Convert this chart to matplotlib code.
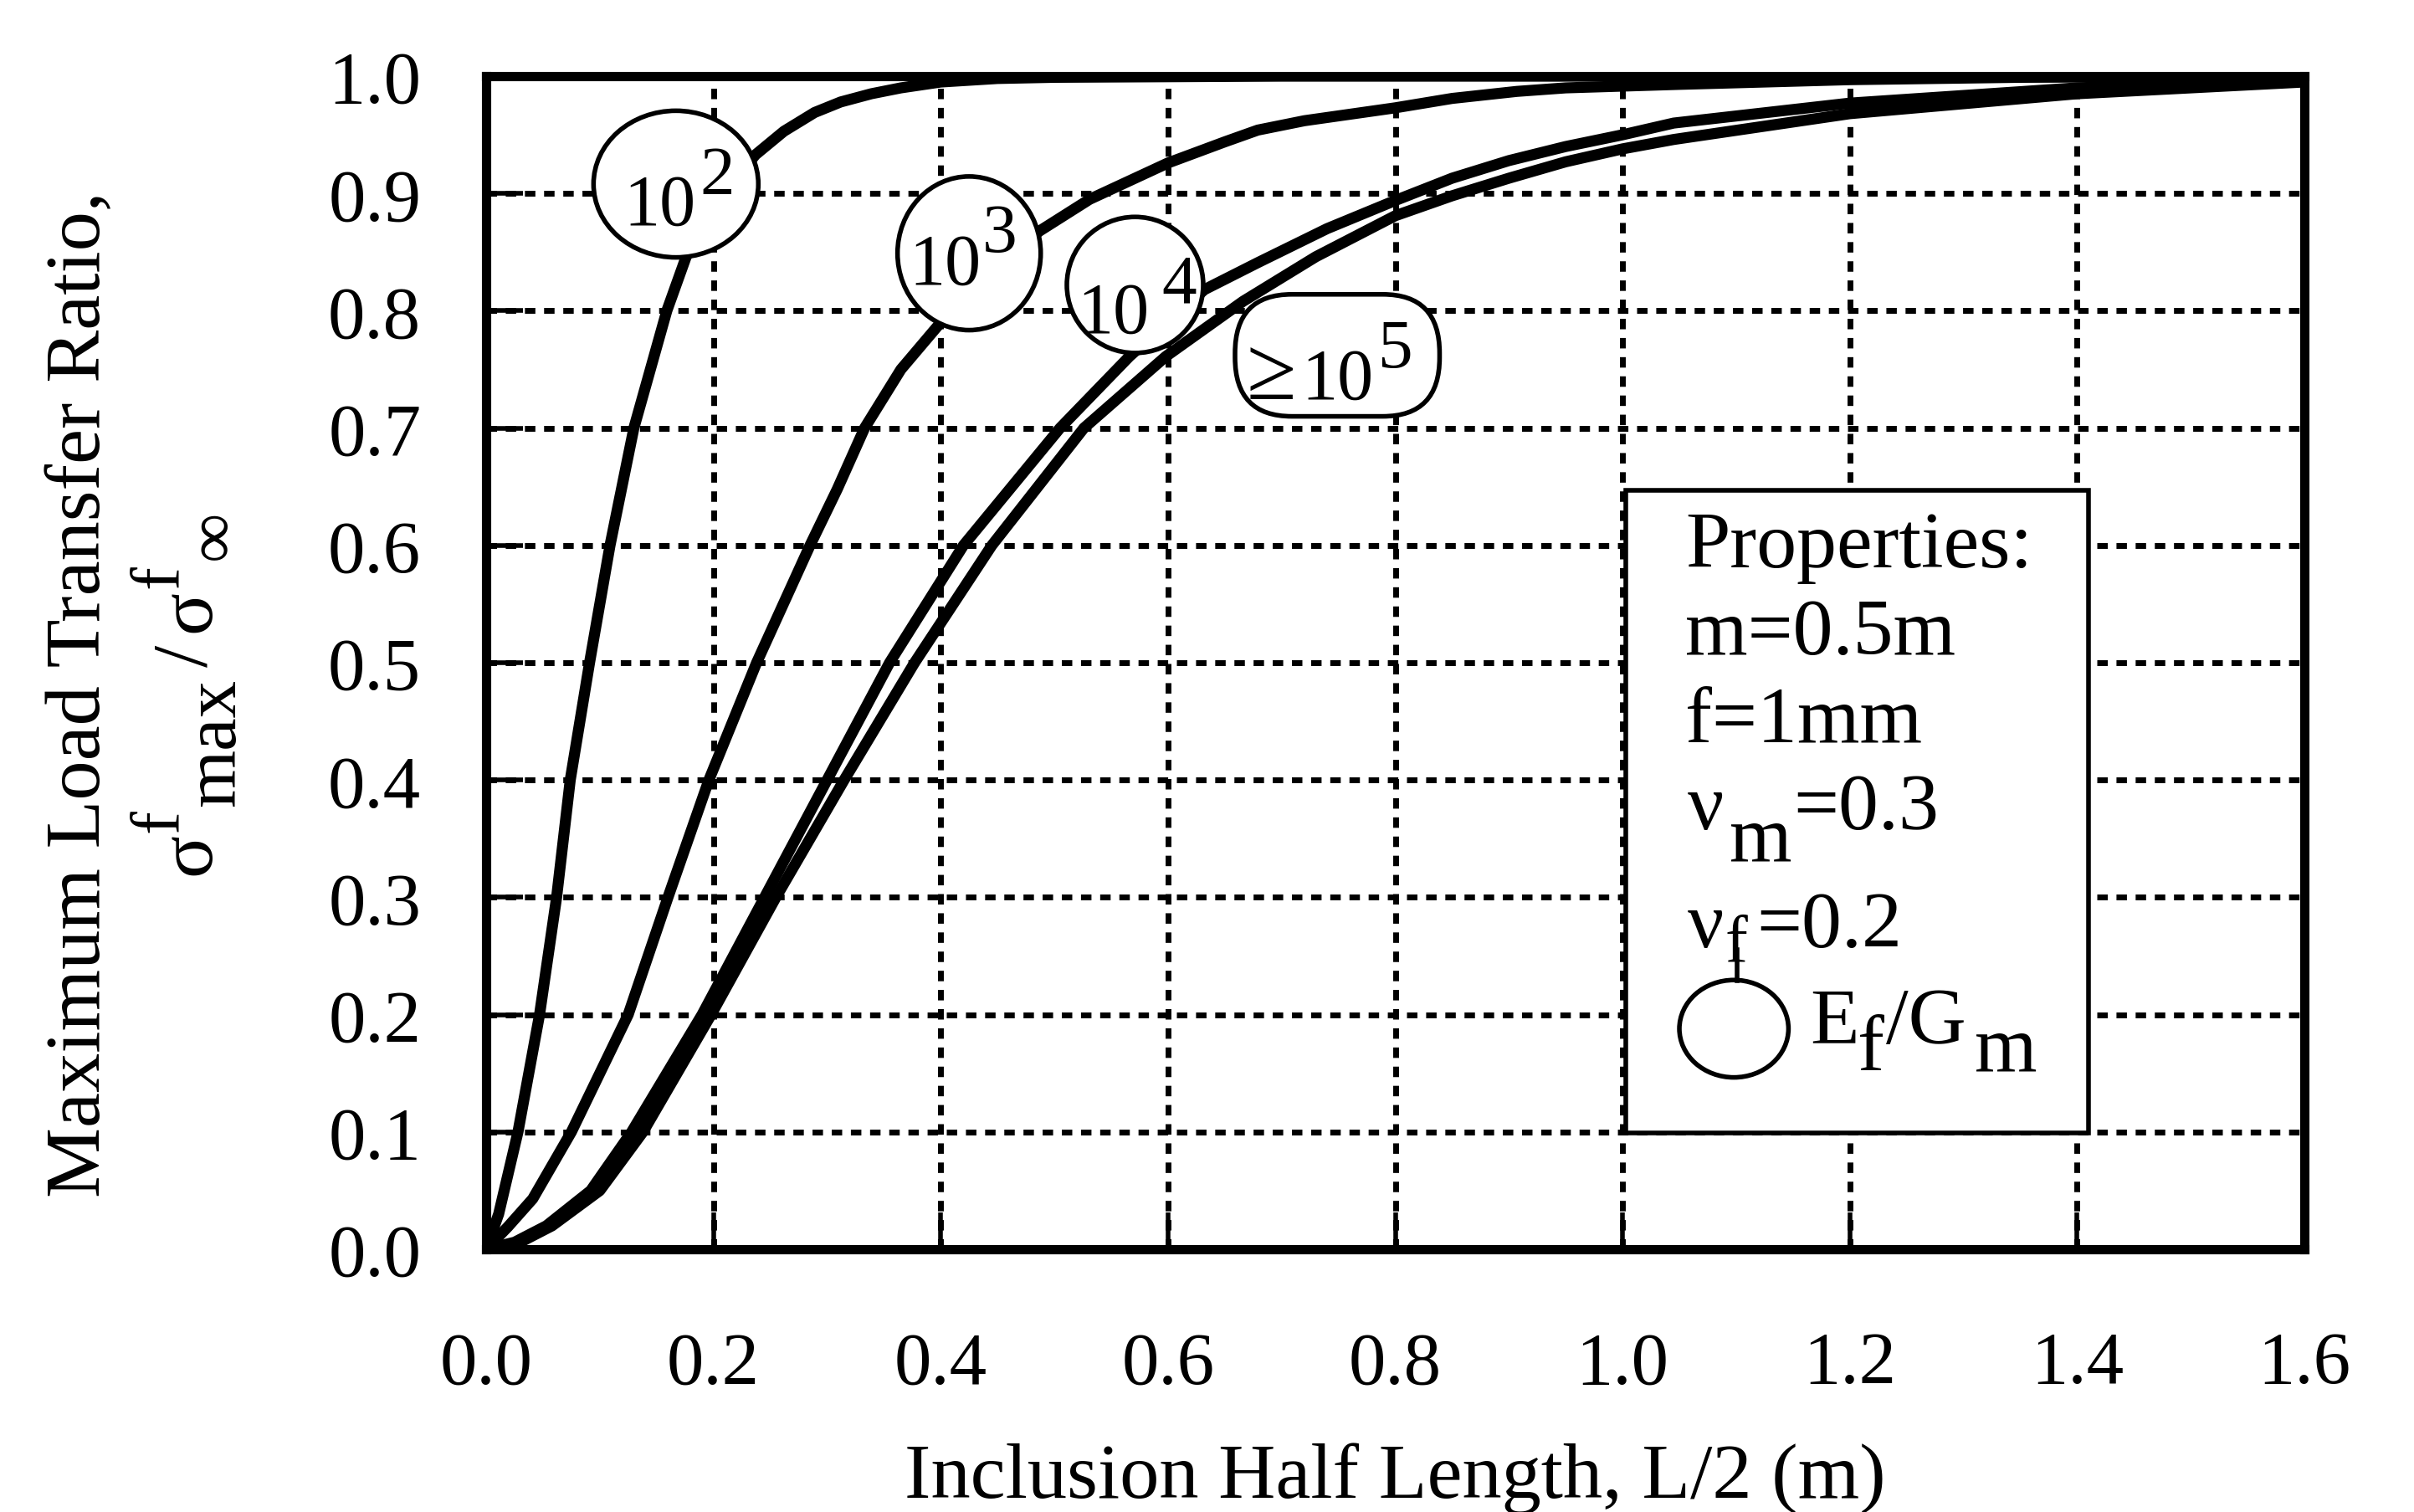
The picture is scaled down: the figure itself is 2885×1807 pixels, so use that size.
import numpy as np
import matplotlib
matplotlib.use('Agg')
import matplotlib.pyplot as plt
from matplotlib.patches import Ellipse, FancyBboxPatch, Rectangle

plt.rcParams['font.family'] = ['Liberation Serif', 'DejaVu Serif']

# curves: E_f/G_m = 1e2, 1e3, 1e4, >=1e5
x_e2 = [0, 0.011, 0.028, 0.047, 0.062, 0.074, 0.091, 0.109, 0.130, 0.159, 0.176,
        0.205, 0.237, 0.262, 0.289, 0.312, 0.339, 0.365, 0.40, 0.45, 0.50, 0.70, 1.60]
y_e2 = [0, 0.03, 0.10, 0.20, 0.30, 0.40, 0.50, 0.60, 0.70, 0.80, 0.846,
        0.895, 0.933, 0.953, 0.969, 0.978, 0.985, 0.990, 0.995, 0.998, 0.999, 1.0, 1.0]

x_e3 = [0, 0.019, 0.041, 0.075, 0.125, 0.160, 0.196, 0.238, 0.285, 0.309, 0.333,
        0.365, 0.400, 0.445, 0.487, 0.531, 0.600, 0.650, 0.679, 0.720, 0.800,
        0.850, 0.907, 0.950, 1.05, 1.20, 1.35, 1.60]
y_e3 = [0, 0.019, 0.043, 0.10, 0.20, 0.30, 0.40, 0.50, 0.60, 0.648, 0.70,
        0.75, 0.79, 0.835, 0.868, 0.895, 0.926, 0.944, 0.954, 0.962, 0.973,
        0.981, 0.987, 0.990, 0.993, 0.997, 0.999, 1.0]

x_e4 = [0, 0.025, 0.053, 0.092, 0.128, 0.190, 0.245, 0.300, 0.355, 0.420, 0.505,
        0.566, 0.632, 0.679, 0.740, 0.800, 0.850, 0.900, 0.950, 1.000, 1.045,
        1.20, 1.40, 1.60]
y_e4 = [0, 0.006, 0.02, 0.05, 0.10, 0.20, 0.30, 0.40, 0.50, 0.60, 0.70,
        0.761, 0.818, 0.841, 0.870, 0.894, 0.913, 0.928, 0.940, 0.950, 0.960,
        0.977, 0.990, 0.997]

x_e5 = [0, 0.030, 0.058, 0.100, 0.138, 0.198, 0.255, 0.315, 0.377, 0.445, 0.526,
        0.598, 0.666, 0.730, 0.800, 0.850, 0.900, 0.950, 1.000, 1.045, 1.20,
        1.40, 1.60]
y_e5 = [0, 0.006, 0.02, 0.05, 0.10, 0.20, 0.30, 0.40, 0.50, 0.60, 0.70,
        0.761, 0.808, 0.846, 0.881, 0.898, 0.913, 0.927, 0.938, 0.946, 0.968,
        0.985, 0.995]

x_ticks = [0.0, 0.2, 0.4, 0.6, 0.8, 1.0, 1.2, 1.4, 1.6]
y_ticks = [0.0, 0.1, 0.2, 0.3, 0.4, 0.5, 0.6, 0.7, 0.8, 0.9, 1.0]

W, H = 2885, 1808
fig = plt.figure(figsize=(W / 100, H / 100), dpi=100)
ax = fig.add_axes([581 / W, 1 - 1494 / H, (2754 - 581) / W, (1494 - 92) / H])

for xs, ys in [(x_e2, y_e2), (x_e3, y_e3), (x_e4, y_e4), (x_e5, y_e5)]:
    ax.plot(xs, ys, color='black', lw=9.5, solid_capstyle='round',
            solid_joinstyle='round', zorder=3)

ax.set_xlim(0, 1.6)
ax.set_ylim(0, 1.0)
ax.set_xticks(x_ticks)
ax.set_yticks(y_ticks)
ax.set_xticklabels(['%.1f' % v for v in x_ticks])
ax.set_yticklabels(['%.1f' % v for v in y_ticks])
ax.tick_params(direction='in', length=32, width=4, labelsize=64, color='black')
ax.tick_params(axis='x', pad=70)
ax.tick_params(axis='y', pad=56)
ax.set_axisbelow(True)
ax.grid(True, color='black', lw=5, ls=(0, (1.8, 1.5)))
for s in ax.spines.values():
    s.set_linewidth(8)

# circled labels on the curves
def circ_label(cx, cy, w, h, base, bx, by, expo, ex, ey):
    ax.add_patch(Ellipse((cx, cy), w, h, fc='white', ec='black', lw=4, zorder=5))
    ax.text(bx, by, base, fontsize=62, ha='center', va='baseline', zorder=6)
    ax.text(ex, ey, expo, fontsize=60, ha='center', va='baseline', zorder=6)

circ_label(0.167, 0.908, 0.145, 0.125, '10', 0.153, 0.874, '2', 0.203, 0.900)
circ_label(0.425, 0.849, 0.126, 0.131, '10', 0.4035, 0.8235, '3', 0.452, 0.851)
circ_label(0.571, 0.822, 0.120, 0.116, '10', 0.552, 0.782, '4', 0.610, 0.808)

ax.add_patch(FancyBboxPatch((0.659, 0.710), 0.180, 0.104,
                            boxstyle='round,pad=0,rounding_size=0.05',
                            fc='white', ec='black', lw=4, zorder=5))
ax.text(0.691, 0.7254, '\u2265', fontsize=78, ha='center', va='baseline', zorder=6)
ax.text(0.749, 0.7254, '10', fontsize=62, ha='center', va='baseline', zorder=6)
ax.text(0.800, 0.7524, '5', fontsize=60, ha='center', va='baseline', zorder=6)

# properties box
ax.add_patch(Rectangle((1.003, 0.099), 0.407, 0.548, fc='white', ec='black',
                       lw=4, zorder=5))
fs = 69
def ltxt(x, y, s, size=fs):
    ax.text(x, y, s, fontsize=size, ha='left', va='baseline', zorder=6)

ltxt(1.055, 0.582, 'Properties:')
ltxt(1.055, 0.508, 'm=0.5m')
ltxt(1.055, 0.433, 'f=1mm')
ltxt(1.057, 0.359, '\u03bd')
ltxt(1.094, 0.332, 'm')
ltxt(1.150, 0.359, '=0.3')
ltxt(1.057, 0.258, '\u03bd')
ltxt(1.090, 0.246, 'f', 58)
ltxt(1.118, 0.258, '=0.2')
ax.add_patch(Ellipse((1.098, 0.188), 0.096, 0.083, fc='white', ec='black',
                     lw=4, zorder=6))
ax.plot([1.101, 1.101], [0.229, 0.255], color='black', lw=4, zorder=6,
        clip_on=False)
ltxt(1.165, 0.176, 'E')
ltxt(1.207, 0.153, 'f')
ltxt(1.232, 0.176, '/G')
ltxt(1.310, 0.153, 'm')

# axis labels
fig.text(1667 / W, 1 - 1790 / H, 'Inclusion Half Length, L/2 (m)', fontsize=68,
         ha='center', va='baseline')

def ytxt(px, py, s, size=68):
    fig.text(px / W, 1 - py / H, s, fontsize=size, rotation=90,
             rotation_mode='anchor', ha='left', va='baseline')

fig.text(119 / W, 1 - 830 / H, 'Maximum Load Transfer Ratio,', fontsize=68,
         rotation=90, rotation_mode='anchor', ha='center', va='baseline')
ytxt(250, 1046, '\u03c3')
ytxt(212, 995, 'f', 60)
ytxt(280, 964, 'max', 64)
ytxt(247, 797, '/')
ytxt(250, 756, '\u03c3')
ytxt(212, 703, 'f', 60)
ytxt(278, 669, '\u221e', 60)

fig.savefig('out.png', dpi=100)
